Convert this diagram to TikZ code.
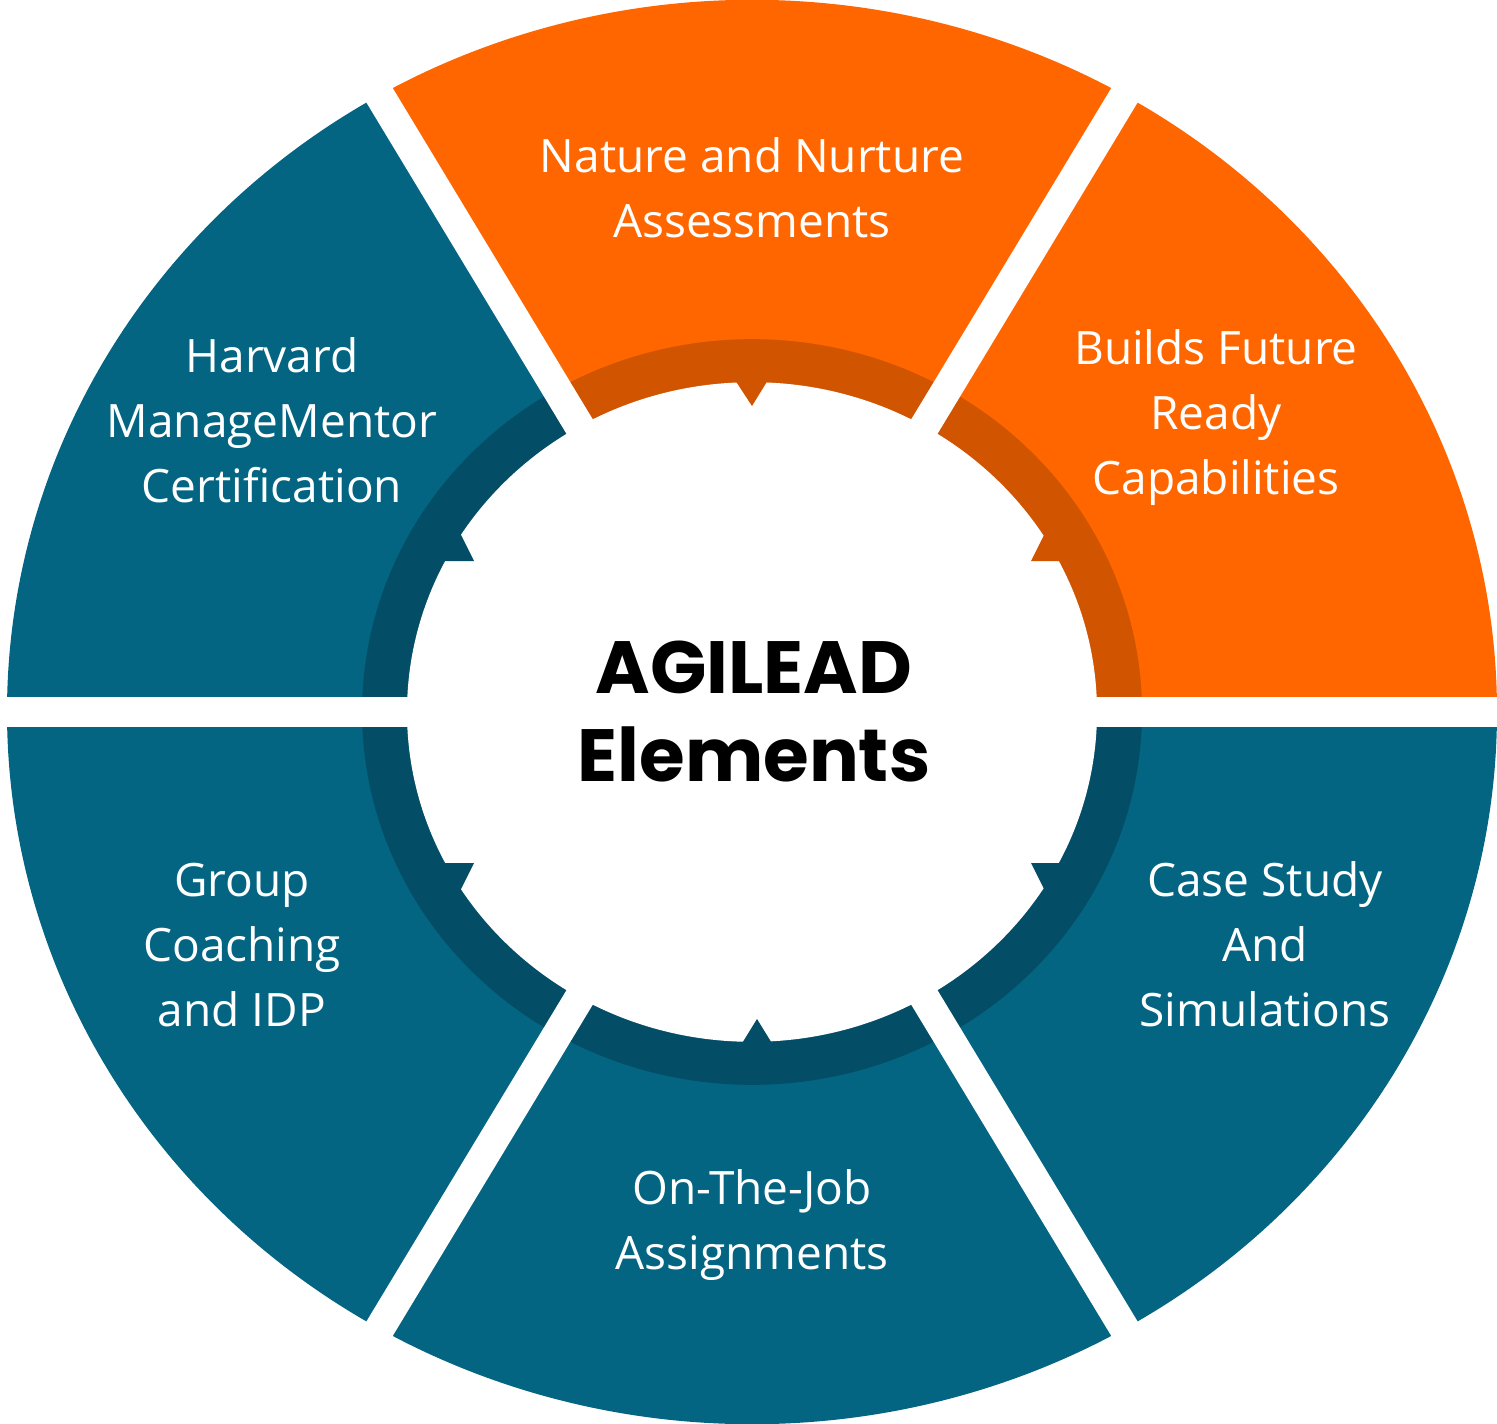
\documentclass[tikz,border=0pt]{standalone}
\usepackage{fontspec}
\setmainfont{Open Sans}
\newfontfamily\titlefont{Poppins}
\definecolor{org}{HTML}{FF6600}
\definecolor{dorg}{HTML}{D15400}
\definecolor{teal}{HTML}{036582}
\definecolor{dteal}{HTML}{034E66}
\tikzset{lbl/.style={text=white,align=center,font=\fontsize{46}{65}\selectfont},
 gapline/.style={white,line width=30pt}}
\begin{document}
\begin{tikzpicture}[x=1pt,y=-1pt]
\useasboundingbox (0,0) rectangle (1497,1424);
\begin{scope}[shift={(752,712)},yscale=0.956]
\foreach \a/\c/\d in {0/teal/dteal,60/teal/dteal,120/teal/dteal,180/teal/dteal,240/org/dorg,300/org/dorg}{
  \pgfmathsetmacro\b{\a+60}
  \fill[\c] (0,0) -- (\a:745) arc[start angle=\a,end angle=\b,radius=745] -- cycle;
  \fill[\d] (0,0) -- (\a:390) arc[start angle=\a,end angle=\b,radius=390] -- cycle;
}
\fill[white] (0,0) circle[radius=345];
\coordinate (c) at (0,0);
\foreach \a in {0,60,120,180,240,300}{
  \draw[gapline] (c) -- (\a:800);
}
\end{scope}
% arrow notches
\fill[dorg] (735,380) -- (768,380) -- (752,406) -- cycle;
\fill[dorg] (1045,533) -- (1031,561) -- (1062,561) -- cycle;
\fill[dteal] (460,533) -- (474,561) -- (443,561) -- cycle;
\fill[dteal] (460,891) -- (474,863) -- (443,863) -- cycle;
\fill[dteal] (1045,891) -- (1031,863) -- (1062,863) -- cycle;
\fill[dteal] (741,1045) -- (773,1045) -- (757,1019) -- cycle;
% labels
\node[lbl] (n1) at (752,188) {Nature and Nurture\\Assessments};
\node[lbl] (n2) at (1216,418) {Builds Future\\Ready\\Capabilities};
\node[lbl] (n3) at (272,420) {Harvard\\ManageMentor\\Certification};
\node[lbl] (n4) at (242,945) {Group\\Coaching\\and IDP};
\node[lbl] (n5) at (1265,944) {Case Study\\And\\Simulations};
\node[lbl] (n6) at (752,1225) {On-The-Job\\Assignments};
\node[align=center,font=\titlefont\bfseries\fontsize{74}{88}\selectfont] (t) at (754,712) {AGILEAD\\Elements};
\end{tikzpicture}
\end{document}
